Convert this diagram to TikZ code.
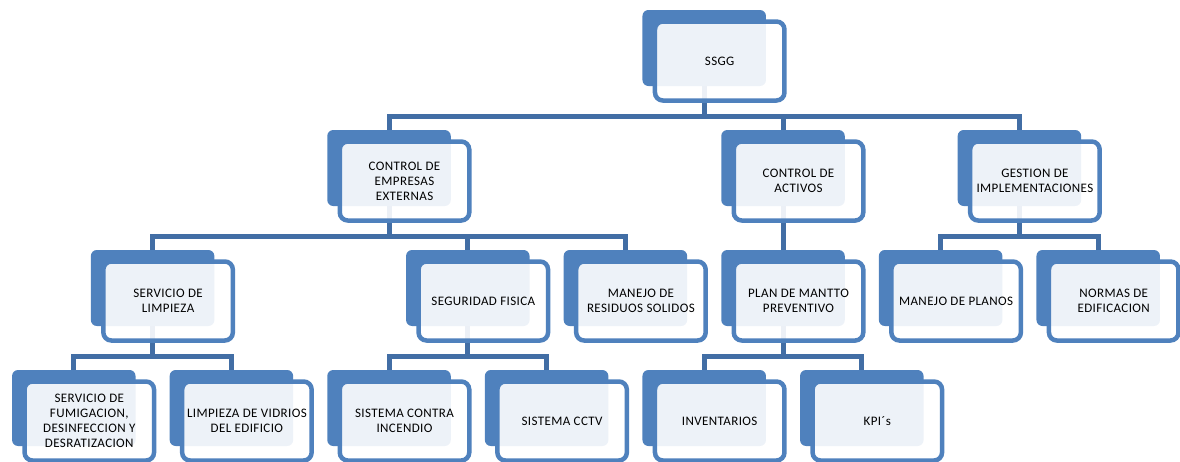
\documentclass[tikz,border=0pt]{standalone}
\usepackage{fontspec}
\setmainfont{Carlito}[LetterSpace=3]
\usetikzlibrary{backgrounds}
\definecolor{boxblue}{HTML}{4F81BD}
\definecolor{linkblue}{RGB}{66,110,165}
\begin{document}
\begin{tikzpicture}[x=1pt, y=-1pt,
    backbox/.style={fill=boxblue, rounded corners=6pt, minimum width=123.5pt, minimum height=76pt, inner sep=0pt},
    frontbox/.style={draw=boxblue, line width=4.5pt, rounded corners=8pt, fill=white, fill opacity=0.9, text opacity=1,
        minimum width=129.5pt, minimum height=79pt, inner sep=2pt, align=center, font=\fontsize{13}{15}\selectfont},
    conn/.style={draw=linkblue, line width=5pt},
    link/.style={to path={(\tikztostart.center) -- ++(0,68) -| (\tikztotarget.north)}}]
                        \useasboundingbox (0,0) rectangle (1180,461);
                        % level 0
                        \node[backbox] (ssgg-b) at (704.2,48) {};
                        \node[frontbox] (ssgg) at ([shift={(15.5,13)}]ssgg-b) {SSGG};
                        % level 1
                        \node[backbox] (cde-b) at (389,168) {};
                        \node[frontbox] (cde) at ([shift={(15.5,13)}]cde-b) {CONTROL DE\\EMPRESAS\\EXTERNAS};
                        \node[backbox] (cda-b) at (783,168) {};
                        \node[frontbox] (cda) at ([shift={(15.5,13)}]cda-b) {CONTROL DE\\ACTIVOS};
                        \node[backbox] (gest-b) at (1019.4,168) {};
                        \node[frontbox] (gest) at ([shift={(15.5,13)}]gest-b) {GESTION DE\\IMPLEMENTACIONES};
                        % level 2
                        \node[backbox] (limp-b) at (152.6,288) {};
                        \node[frontbox] (limp) at ([shift={(15.5,13)}]limp-b) {SERVICIO DE\\LIMPIEZA};
                        \node[backbox] (seg-b) at (467.8,288) {};
                        \node[frontbox] (seg) at ([shift={(15.5,13)}]seg-b) {SEGURIDAD FISICA};
                        \node[backbox] (res-b) at (625.4,288) {};
                        \node[frontbox] (res) at ([shift={(15.5,13)}]res-b) {MANEJO DE\\RESIDUOS SOLIDOS};
                        \node[backbox] (mantto-b) at (783,288) {};
                        \node[frontbox] (mantto) at ([shift={(15.5,13)}]mantto-b) {PLAN DE MANTTO\\PREVENTIVO};
                        \node[backbox] (planos-b) at (940.6,288) {};
                        \node[frontbox] (planos) at ([shift={(15.5,13)}]planos-b) {MANEJO DE PLANOS};
                        \node[backbox] (normas-b) at (1098.2,288) {};
                        \node[frontbox] (normas) at ([shift={(15.5,13)}]normas-b) {NORMAS DE\\EDIFICACION};
                        % level 3
                        \node[backbox] (fumig-b) at (73.8,408) {};
                        \node[frontbox] (fumig) at ([shift={(15.5,13)}]fumig-b) {SERVICIO DE\\FUMIGACION,\\DESINFECCION Y\\DESRATIZACION};
                        \node[backbox] (vidrios-b) at (231.4,408) {};
                        \node[frontbox] (vidrios) at ([shift={(15.5,13)}]vidrios-b) {LIMPIEZA DE VIDRIOS\\DEL EDIFICIO};
                        \node[backbox] (incendio-b) at (389,408) {};
                        \node[frontbox] (incendio) at ([shift={(15.5,13)}]incendio-b) {SISTEMA CONTRA\\INCENDIO};
                        \node[backbox] (cctv-b) at (546.6,408) {};
                        \node[frontbox] (cctv) at ([shift={(15.5,13)}]cctv-b) {SISTEMA CCTV};
                        \node[backbox] (invent-b) at (704.2,408) {};
                        \node[frontbox] (invent) at ([shift={(15.5,13)}]invent-b) {INVENTARIOS};
                        \node[backbox] (kpi-b) at (861.8,408) {};
                        \node[frontbox] (kpi) at ([shift={(15.5,13)}]kpi-b) {KPI´s};
                        % connectors behind the boxes
                        \begin{scope}[on background layer]
                        \draw[conn] (ssgg-b) to[link] (cde-b) (ssgg-b) to[link] (cda-b) (ssgg-b) to[link] (gest-b);
                        \draw[conn] (cde-b) to[link] (limp-b) (cde-b) to[link] (seg-b) (cde-b) to[link] (res-b);
                        \draw[conn] (cda-b) to[link] (mantto-b);
                        \draw[conn] (gest-b) to[link] (planos-b) (gest-b) to[link] (normas-b);
                        \draw[conn] (limp-b) to[link] (fumig-b) (limp-b) to[link] (vidrios-b);
                        \draw[conn] (seg-b) to[link] (incendio-b) (seg-b) to[link] (cctv-b);
                        \draw[conn] (mantto-b) to[link] (invent-b) (mantto-b) to[link] (kpi-b);
                        \end{scope}
                    \end{tikzpicture}
\end{document}
